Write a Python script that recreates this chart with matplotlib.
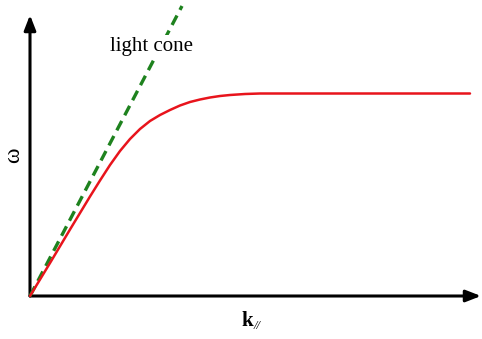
import matplotlib
matplotlib.use('Agg')
import matplotlib.pyplot as plt

# dispersion curve (k, omega) in plot units, origin at the axes corner
k_par = [0, 20, 40, 60, 70, 80, 90, 100, 110, 120, 130, 140, 150, 160,
         170, 180, 190, 200, 215, 230, 250, 440]
omega = [0, 33, 66.5, 99.5, 115.5, 131, 145, 157, 167, 175, 181, 186, 190.5, 194,
         196.5, 198.5, 200, 201, 202, 202.5, 202.5, 202.5]

# light cone omega = c k
cone_k = [0, 152]
cone_w = [0, 290]

fig = plt.figure(figsize=(4.82, 3.39), dpi=100)
ax = fig.add_axes([0, 0, 1, 1])
ax.set_xlim(-30, 452)
ax.set_ylim(-43, 296)
ax.axis('off')

# axes with arrow heads
ax.annotate('', xy=(451, 0), xytext=(0, 0),
            arrowprops=dict(arrowstyle='-|>,head_length=0.9,head_width=0.35',
                            lw=2.2, color='black', shrinkA=0, shrinkB=0))
ax.annotate('', xy=(0, 281), xytext=(0, 0),
            arrowprops=dict(arrowstyle='-|>,head_length=0.9,head_width=0.35',
                            lw=2.2, color='black', shrinkA=0, shrinkB=0))

ax.plot(cone_k, cone_w, color='#1e821e', lw=2.4, ls=(0, (3.2, 1.9)), zorder=3)
ax.plot(k_par, omega, color='#e8141c', lw=1.8, zorder=4,
        solid_joinstyle='round', solid_capstyle='round')

# label sits on a white patch so the dashed line breaks behind it
ax.text(80, 249, 'light cone', fontsize=15, family='Liberation Serif',
        ha='left', va='center', color='black', zorder=5,
        bbox=dict(fc='white', ec='none', pad=2))
ax.text(-16, 141, 'ω', fontsize=17, family='Liberation Serif',
        rotation=90, ha='center', va='center')
ax.text(223, -30, 'k', fontsize=15, family='Liberation Serif',
        fontweight='bold', ha='right', va='baseline')
ax.text(223.5, -33, '//', fontsize=9, family='Liberation Serif',
        style='italic', ha='left', va='baseline')

fig.savefig('out.png', dpi=100)
